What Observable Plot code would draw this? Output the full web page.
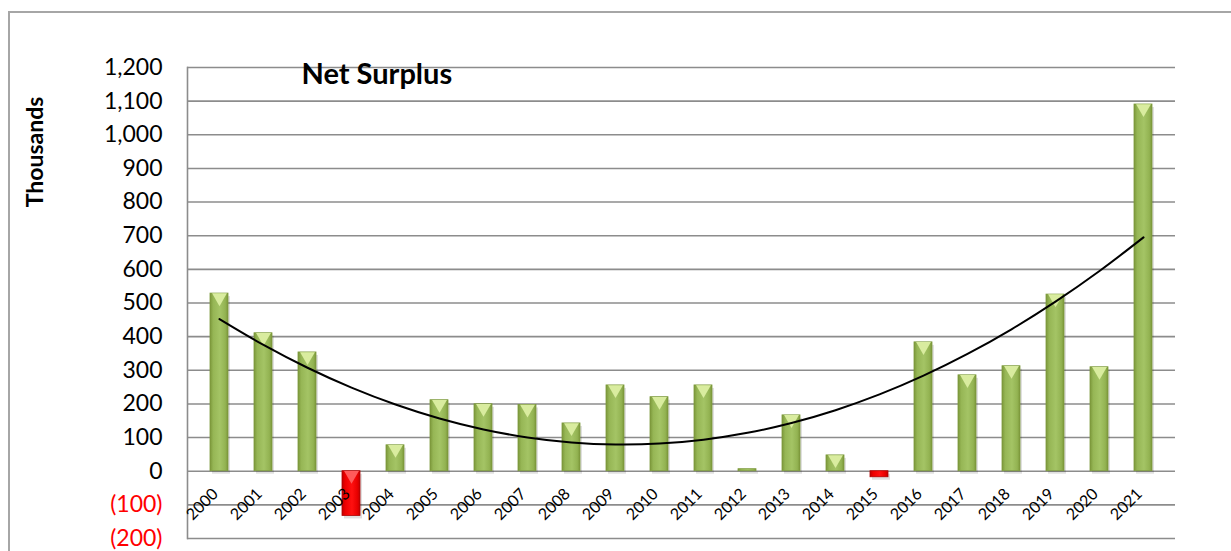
<!DOCTYPE html>
<html>
<head>
<meta charset="utf-8">
<script src="https://cdn.jsdelivr.net/npm/d3@7"></script>
<script src="https://cdn.jsdelivr.net/npm/@observablehq/plot@0.6"></script>
<style>
  html, body { margin: 0; padding: 0; background: #fff; overflow: hidden; }
  #wrap { position: relative; width: 1231px; height: 551px; }
  #border { position: absolute; left: 8px; top: 11px; width: 1240px; height: 560px; border: 2px solid #a6a6a6; box-sizing: border-box; }
  #chart { position: absolute; left: 0; top: 0; }
</style>
</head>
<body>
<div id="wrap"><div id="border"></div><div id="chart"></div></div>
<script>
const years = ["2000","2001","2002","2003","2004","2005","2006","2007","2008","2009","2010","2011","2012","2013","2014","2015","2016","2017","2018","2019","2020","2021"];
const surplus = [528, 410, 353, -133, 77, 211, 199, 197, 142, 255, 220, 255, 6, 166, 47, -18, 383, 285, 312, 525, 309, 1090];
const yTicks = [-200, -100, 0, 100, 200, 300, 400, 500, 600, 700, 800, 900, 1000, 1100, 1200];
const titleText = "Net Surplus";
const yLabel = "Thousands";

const data = years.map((y, i) => ({year: y, value: surplus[i], i}));

// Quadratic least-squares trend (Excel polynomial order 2)
function quadFit(xs, ys) {
  const n = xs.length;
  let s = [0,0,0,0,0], t = [0,0,0];
  for (let k = 0; k < n; k++) {
    const x = xs[k], y = ys[k];
    let p = 1;
    for (let j = 0; j <= 4; j++) { s[j] += p; if (j <= 2) t[j] += p * y; p *= x; }
  }
  const A = [[s[0], s[1], s[2], t[0]], [s[1], s[2], s[3], t[1]], [s[2], s[3], s[4], t[2]]];
  for (let c = 0; c < 3; c++) {
    for (let r = c + 1; r < 3; r++) {
      const f = A[r][c] / A[c][c];
      for (let k = c; k < 4; k++) A[r][k] -= f * A[c][k];
    }
  }
  const b = [0,0,0];
  for (let r = 2; r >= 0; r--) {
    let v = A[r][3];
    for (let k = r + 1; k < 3; k++) v -= A[r][k] * b[k];
    b[r] = v / A[r][r];
  }
  return x => b[0] + b[1] * x + b[2] * x * x;
}
const fit = quadFit(data.map(d => d.i + 1), surplus);
const trend = data.map(d => ({year: d.year, value: fit(d.i + 1)}));

const fmt = v => v < 0 ? `(${d3.format(",")(-v)})` : d3.format(",")(v);
const font = "Lato, 'Open Sans', sans-serif";

const chart = Plot.plot({
  width: 1231,
  height: 551,
  marginTop: 67,
  marginBottom: 13,
  marginLeft: 187,
  marginRight: 56,
  style: {fontFamily: font, background: "transparent", overflow: "visible"},
  x: {type: "band", domain: years, paddingInner: 0.59, paddingOuter: 0.3, axis: null},
  y: {domain: [-200, 1200], axis: null},
  marks: [
    Plot.gridY(yTicks, {stroke: "#8c8c8c", strokeOpacity: 1, strokeWidth: 1.6}),
    Plot.frame({anchor: "left", stroke: "#8c8c8c", strokeWidth: 1.6}),
    Plot.axisY(yTicks.filter(v => v >= 0), {tickSize: 0, tickPadding: 25, tickFormat: fmt, fontSize: 23, fill: "#000", label: null}),
    Plot.axisY(yTicks.filter(v => v < 0), {tickSize: 0, tickPadding: 25, tickFormat: fmt, fontSize: 23, fill: "#ff0000", label: null}),
    // bar shadows
    Plot.barY(data, {x: "year", y: "value", fill: "#000", fillOpacity: 0.12, dx: 2, dy: 3}),
    Plot.barY(data, {x: "year", y: "value", fill: d => d.value < 0 ? "url(#gradRed)" : "url(#gradGreen)", stroke: d => d.value < 0 ? "#b00000" : "#7d9a3c", strokeWidth: 0.8}),
    Plot.dot(data.filter(d => Math.abs(d.value) > 30), {x: "year", y: d => Math.max(d.value, 0), symbol: "triangle", rotate: 180, r: 5.5, dy: 4, fill: d => d.value < 0 ? "#ff5a5a" : "#d9ec9f", stroke: "none"}),
    Plot.line(trend, {x: "year", y: "value", curve: "catmull-rom", stroke: "#000", strokeWidth: 2}),
    Plot.text(years, {x: d => d, y: 0, text: d => d, rotate: -45, textAnchor: "end", dx: -4, dy: 20, fontSize: 16, fill: "#000"}),
    Plot.text([titleText], {frameAnchor: "top-left", dx: 114, dy: 7, fontSize: 29, fontWeight: "bold", fill: "#000", textAnchor: "start", lineAnchor: "middle"}),
  ]
});

// gradients
const svg = d3.select(chart);
const defs = svg.insert("defs", ":first-child");
const g1 = defs.append("linearGradient").attr("id", "gradGreen").attr("x1", "0").attr("x2", "1").attr("y1", "0").attr("y2", "0");
[["0%","#7b973a"],["18%","#96b655"],["55%","#a4c465"],["85%","#93b352"],["100%","#7b973a"]].forEach(([o,c]) => g1.append("stop").attr("offset", o).attr("stop-color", c));
const g2 = defs.append("linearGradient").attr("id", "gradRed").attr("x1", "0").attr("x2", "1").attr("y1", "0").attr("y2", "0");
[["0%","#c00000"],["18%","#ee0000"],["55%","#ff1010"],["85%","#e80000"],["100%","#c00000"]].forEach(([o,c]) => g2.append("stop").attr("offset", o).attr("stop-color", c));

// y label
svg.append("text")
  .attr("transform", "translate(37,152) rotate(-90)")
  .attr("text-anchor", "middle")
  .attr("dominant-baseline", "middle")
  .attr("font-family", font)
  .attr("font-size", 23)
  .attr("font-weight", "bold")
  .text(yLabel);

document.getElementById("chart").appendChild(chart);
</script>
</body>
</html>
